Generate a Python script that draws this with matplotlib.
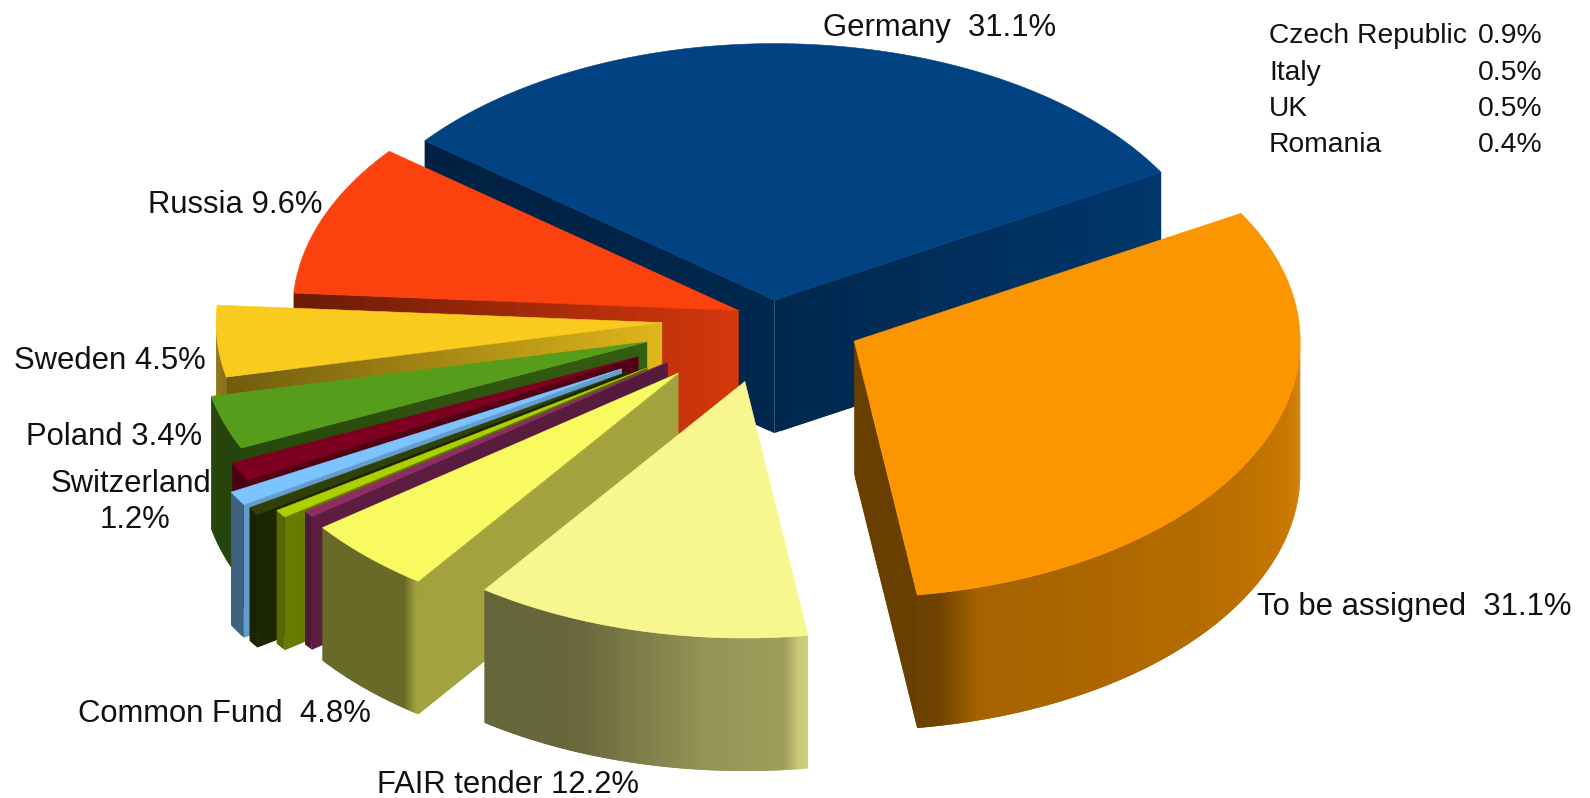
import numpy as np
import matplotlib
matplotlib.use('Agg')
import matplotlib.pyplot as plt
from matplotlib.patches import Polygon
from matplotlib.colors import to_rgb

plt.rcParams['font.family'] = ['Liberation Sans', 'DejaVu Sans']

# Slices in clockwise order, starting at Germany
names = ['Germany', 'To be assigned', 'FAIR tender', 'Common Fund', 'Romania', 'UK',
         'Italy', 'Czech Republic', 'Switzerland', 'Poland', 'Sweden', 'Russia']
values = [31.1, 31.1, 12.2, 4.8, 0.4, 0.5, 0.5, 0.9, 1.2, 3.4, 4.5, 9.6]
explode = [0.07, 0.205, 0.255, 0.30, 0.29, 0.34, 0.385, 0.39, 0.335, 0.295, 0.247, 0.08]
colors = ['#004282', '#fb9500', '#f8f78f', '#f9f960', '#8e2d63', '#aecf00',
          '#314004', '#7cc4ff', '#7e0021', '#579d1c', '#f9cb1f', '#fb410e']

# Shading of the walls, as a fraction of the top colour
# radial walls: (at apex, at rim) for the first and for the last edge of the slice
first_wall = [(0.6, 0.5), (0.42, 0.42), (0.6, 0.6), (0.66, 0.65), (0.6, 0.65), (0.5, 0.6),
              (0.6, 0.6), (0.8, 0.8), (0.65, 0.65), (0.6, 0.45), (0.9, 0.45), (0.85, 0.42)]
last_wall = [(0.6, 0.82), (0.42, 0.42), (0.6, 0.6), (0.6, 0.6), (0.6, 0.6), (0.6, 0.6),
             (0.6, 0.6), (0.6, 0.6), (0.6, 0.6), (0.6, 0.6), (0.6, 0.6), (0.6, 0.6)]
# outer wall: shade stops along the angle, in degrees
rim_angles = {1: [-82, -79, -74, -40, 0], 2: [-126, -112, -95, -85, -83], 3: [-143.2, -128, -126]}
rim_shades = {1: [0.42, 0.45, 0.66, 0.72, 0.85], 2: [0.41, 0.42, 0.6, 0.64, 0.82], 3: [0.42, 0.42, 0.65]}
rim_flat = [0.5, 0.6, 0.6, 0.42, 0.55, 0.5, 0.55, 0.5, 0.6, 0.44, 0.55, 0.5]

draw_order = [0, 11, 10, 9, 8, 7, 6, 5, 4, 3, 2, 1]

# (text, x, y, ha)
labels = [
    ('Germany  31.1%', 823, 28, 'left'),
    ('Russia 9.6%', 148, 205, 'left'),
    ('Sweden 4.5%', 14, 361, 'left'),
    ('Poland 3.4%', 26, 437, 'left'),
    ('Switzerland', 131, 484, 'center'),
    ('1.2%', 135, 520, 'center'),
    ('To be assigned  31.1%', 1257, 607, 'left'),
    ('Common Fund  4.8%', 78, 714, 'left'),
    ('FAIR tender 12.2%', 377, 785, 'left'),
]
small_names = ['Czech Republic', 'Italy', 'UK', 'Romania']
small_pct = ['0.9%', '0.5%', '0.5%', '0.4%']
small_y = [36, 72.5, 109, 145.5]

start_angle = 141.6
cx, cy = 772, 318
rx, ry = 446, 256.5
depth = 133


def shaded(color, s):
    return tuple(np.array(to_rgb(color)) * s)


def point(x0, y0, a, r=1.0):
    t = np.radians(a)
    return x0 + r * rx * np.cos(t), y0 - r * ry * np.sin(t)


def strip(ax, p, q, color):
    # one piece of wall, from the top edge p-q down by depth
    poly = [p, q, (q[0], q[1] + depth), (p[0], p[1] + depth)]
    ax.add_patch(Polygon(poly, closed=True, facecolor=color, edgecolor='none', lw=0))


def radial_wall(ax, x0, y0, a, shades, color, n=60):
    for j in range(n):
        f0, f1 = j / n, (j + 1) / n
        # each piece runs on under the next one, so no seam shows
        f2 = min((j + 2) / n, 1.0)
        s = shades[0] + (shades[1] - shades[0]) * (f0 + f1) / 2
        strip(ax, point(x0, y0, a, f0), point(x0, y0, a, f2), shaded(color, s))


def wall_visible(x0, y0, a, mid):
    # the wall shows when the slice lies above the line of its edge
    ex, ey = point(x0, y0, a)
    ix, iy = point(x0, y0, mid, 0.6)
    if abs(ex - x0) < 1e-6:
        return False
    return iy < y0 + (ey - y0) * (ix - x0) / (ex - x0)


fig = plt.figure(figsize=(15.9, 7.98), dpi=100)
ax = fig.add_axes([0, 0, 1, 1])
ax.set_xlim(0, 1590)
ax.set_ylim(798, 0)
ax.axis('off')

sweeps = np.array(values) / sum(values) * 360
ends = start_angle - np.cumsum(sweeps)
starts = ends + sweeps

for i in draw_order:
    a0, a1 = starts[i], ends[i]
    mid = (a0 + a1) / 2
    ox, oy = point(cx, cy, mid, explode[i])
    c = colors[i]

    if wall_visible(ox, oy, a0, mid):
        radial_wall(ax, ox, oy, a0, first_wall[i], c)
    if wall_visible(ox, oy, a1, mid):
        radial_wall(ax, ox, oy, a1, last_wall[i], c)

    # outer wall, only the part on the front of the ellipse
    hi, lo = min(a0, 0), max(a1, -180)
    if hi > lo:
        angs = np.linspace(hi, lo, max(int((hi - lo) * 3), 4))
        for k in range(len(angs) - 1):
            p0, p1 = angs[k], angs[k + 1]
            p2 = angs[min(k + 2, len(angs) - 1)]
            if i in rim_angles:
                s = np.interp((p0 + p1) / 2, rim_angles[i], rim_shades[i])
            else:
                s = rim_flat[i]
            strip(ax, point(ox, oy, p0), point(ox, oy, p2), shaded(c, s))

    # top face
    angs = np.linspace(a0, a1, max(int(a0 - a1) * 2, 6))
    top = [(ox, oy)] + [point(ox, oy, a) for a in angs]
    ax.add_patch(Polygon(top, closed=True, facecolor=c, edgecolor=c, lw=0.4))

for text, x, y, ha in labels:
    ax.text(x, y, text, fontsize=22.3, ha=ha, va='center', color='#111111')

for name, pct, y in zip(small_names, small_pct, small_y):
    ax.text(1269, y, name, fontsize=20.3, ha='left', va='center', color='#111111')
    ax.text(1478, y, pct, fontsize=20.3, ha='left', va='center', color='#111111')

plt.savefig('out.png', dpi=100)
